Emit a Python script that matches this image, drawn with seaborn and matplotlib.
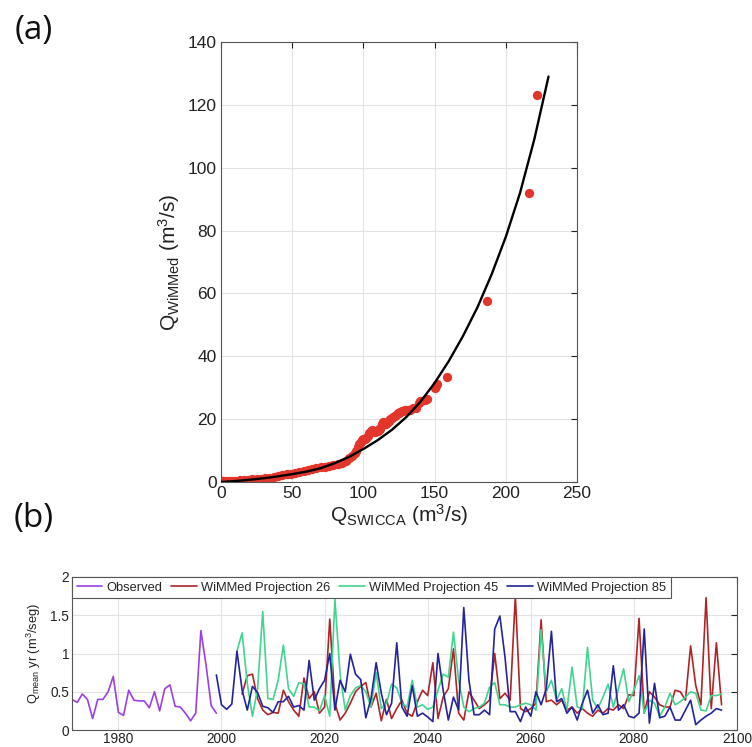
import numpy as np
import pandas as pd
import matplotlib
matplotlib.use("Agg")
import matplotlib.pyplot as plt
import seaborn as sns

sns.set_theme(style="whitegrid")
plt.rcParams['font.family'] = ['Liberation Sans', 'DejaVu Sans']
plt.rcParams['mathtext.fontset'] = 'custom'
plt.rcParams['mathtext.rm'] = 'Liberation Sans'
plt.rcParams['mathtext.it'] = 'Liberation Sans:italic'

# ---------------- (a) scatter data ----------------
q_swicca = [0, 1, 2, 4, 6, 8, 10, 13, 16, 19, 22, 25, 28, 31, 34, 37, 40, 43, 46, 49,
            52, 55, 58, 61, 64, 67, 70, 73, 76, 79, 82, 85, 88, 90, 92, 94, 95, 96, 97, 98,
            99, 100, 101, 102, 103, 104, 105, 106, 107, 108, 110, 111, 112, 113, 114, 115,
            116, 117, 118, 119, 120, 121, 122, 123, 124, 125, 126, 127, 128, 129, 130, 131,
            132, 133, 135, 137, 139, 140, 143, 145, 150, 151, 152, 159, 187, 216, 222]
q_wimmed = [0.3, 0.2, 0.3, 0.3, 0.3, 0.4, 0.4, 0.5, 0.6, 0.7, 0.8, 0.9, 1.0, 1.2, 1.4, 1.6,
            1.9, 2.1, 2.4, 2.7, 3.0, 3.2, 3.5, 3.8, 4.1, 4.4, 4.7, 4.9, 5.1, 5.3, 5.6, 6.0,
            6.8, 7.5, 8.3, 9.3, 10.0, 11.0, 12.0, 12.8, 13.3, 13.6, 13.8, 14.0, 14.5, 15.5,
            16.2, 16.5, 16.3, 16.0, 16.2, 16.8, 17.0, 18.5, 19.2, 18.8, 18.6, 19.0, 19.5,
            20.0, 20.3, 20.7, 21.0, 21.4, 21.8, 22.0, 22.3, 22.5, 22.7, 22.8, 23.0, 23.0,
            23.0, 23.0, 23.5, 23.5, 25.0, 25.7, 26.0, 26.5, 29.8, 30.5, 31.2, 33.5, 57.5,
            92.0, 123.0]

# fitted curve
fit_x = [0, 10, 20, 30, 40, 50, 60, 70, 80, 90, 100, 110, 120, 130, 140, 150, 160, 170,
         180, 190, 200, 210, 220, 230]
fit_y = [0, 0.3, 0.7, 1.2, 1.8, 2.5, 3.3, 4.4, 6.0, 8.0, 10.5, 13.3, 16.6, 20.6, 25.5,
         31.5, 38.5, 46.5, 55.5, 66, 78, 92, 109, 129]

# ---------------- (b) time series data ----------------
obs_start, obs_end = 1971, 1999
observed = [0.40, 0.36, 0.47, 0.40, 0.15, 0.40, 0.40, 0.50, 0.70, 0.23, 0.19, 0.52, 0.39,
            0.38, 0.38, 0.29, 0.50, 0.25, 0.54, 0.59, 0.31, 0.30, 0.22, 0.12, 0.22, 1.30,
            0.85, 0.32, 0.22]

p26_start, p26_end = 2004, 2097
proj26 = [0.47, 0.71, 0.73, 0.41, 0.26, 0.20, 0.23, 0.22, 0.52, 0.37, 0.26, 0.18, 0.68,
          0.41, 0.50, 0.22, 0.30, 1.45, 0.35, 0.13, 0.22, 0.35, 0.50, 0.57, 0.62, 0.30,
          0.48, 0.12, 0.40, 0.15, 0.28, 0.39, 0.22, 0.18, 0.37, 0.52, 0.45, 0.88, 0.15,
          0.43, 0.54, 1.06, 0.22, 0.13, 0.50, 0.39, 0.28, 0.33, 0.39, 1.00, 0.41, 0.48,
          0.39, 1.75, 0.28, 0.24, 0.28, 0.35, 1.44, 0.37, 0.39, 0.33, 0.39, 0.26, 0.30,
          0.22, 0.28, 0.22, 0.18, 0.26, 0.22, 0.28, 0.26, 0.33, 0.28, 0.46, 0.45, 1.46,
          0.22, 0.50, 0.43, 0.33, 0.30, 0.30, 0.52, 0.50, 0.39, 1.10, 0.58, 0.33, 1.73,
          0.28, 1.14, 0.33]

p45_start, p45_end = 2003, 2097
proj45 = [1.03, 1.27, 0.61, 0.18, 0.54, 1.55, 0.41, 0.40, 0.65, 1.11, 0.54, 0.44, 0.62,
          0.60, 0.30, 0.30, 0.25, 0.45, 0.18, 1.71, 0.73, 0.26, 0.45, 0.55, 0.58, 0.50,
          0.30, 0.75, 0.28, 0.35, 0.60, 0.55, 0.35, 0.30, 0.65, 0.30, 0.33, 0.27, 0.30,
          0.52, 0.73, 0.69, 1.28, 0.65, 0.30, 0.24, 0.28, 0.30, 0.35, 0.56, 0.62, 0.33,
          0.33, 0.30, 0.30, 0.33, 0.35, 0.33, 0.26, 1.31, 0.50, 0.65, 0.39, 0.54, 0.26,
          0.82, 0.30, 0.28, 1.08, 0.39, 0.28, 0.43, 0.60, 0.30, 0.54, 0.80, 0.37, 0.52,
          0.71, 0.22, 0.39, 0.35, 0.18, 0.30, 0.48, 0.33, 0.37, 0.43, 0.50, 0.48, 0.26,
          0.25, 0.45, 0.45, 0.47]

p85_start, p85_end = 1999, 2097
proj85 = [0.72, 0.33, 0.27, 0.34, 1.03, 0.52, 0.26, 0.57, 0.49, 0.31, 0.29, 0.23, 0.37,
          0.37, 0.44, 0.30, 0.32, 0.26, 0.91, 0.39, 0.54, 0.65, 1.00, 0.26, 0.65, 0.50,
          0.99, 0.73, 0.66, 0.16, 0.41, 0.88, 0.48, 0.20, 0.35, 1.14, 0.30, 0.18, 0.58,
          0.18, 0.22, 0.17, 0.11, 1.00, 0.52, 0.13, 0.43, 0.26, 1.60, 0.65, 0.20, 0.20,
          0.26, 0.20, 1.32, 1.49, 0.95, 0.24, 0.24, 0.11, 0.30, 0.18, 0.50, 0.33, 0.54,
          1.29, 0.37, 0.41, 0.22, 0.30, 0.13, 0.35, 0.52, 0.22, 0.33, 0.20, 0.22, 0.84,
          0.26, 0.33, 0.18, 0.16, 0.22, 1.32, 0.09, 0.61, 0.16, 0.18, 0.30, 0.13, 0.13,
          0.26, 0.39, 0.07, 0.13, 0.18, 0.22, 0.28, 0.26]

series_names = ["Observed", "WiMMed Projection 26", "WiMMed Projection 45",
                "WiMMed Projection 85"]
series_colors = ["#9b3fe6", "#b02428", "#41d48e", "#23249a"]

frames = []
for name, start, end, vals in [
        (series_names[0], obs_start, obs_end, observed),
        (series_names[1], p26_start, p26_end, proj26),
        (series_names[2], p45_start, p45_end, proj45),
        (series_names[3], p85_start, p85_end, proj85)]:
    frames.append(pd.DataFrame({"year": np.arange(start, end + 1), "q": vals,
                                "series": name}))
ts = pd.concat(frames, ignore_index=True)

# ---------------- figure ----------------
fig = plt.figure(figsize=(7.52, 7.47), dpi=100)
W, H = 752, 747

def box(l, r, t, b):
    return [l / W, 1 - b / H, (r - l) / W, (b - t) / H]

grid_kw = dict(color="#e3e3e3", linewidth=0.8)

# (a)
ax1 = fig.add_axes(box(221, 577, 42, 482))
ax1.set_facecolor("white")
sns.lineplot(x=fit_x, y=fit_y, ax=ax1, color="black", linewidth=1.7, zorder=3,
             sort=False)
sns.scatterplot(x=q_swicca, y=q_wimmed, ax=ax1, color="#e2362b", s=45,
                edgecolor="#e2362b", linewidth=0, zorder=2)
ax1.set_xlim(0, 250)
ax1.set_ylim(0, 140)
ax1.set_xticks(range(0, 251, 50))
ax1.set_yticks(range(0, 141, 20))
ax1.grid(True, **grid_kw)
for sp in ax1.spines.values():
    sp.set_color("#555555")
    sp.set_linewidth(0.8)
ax1.tick_params(axis="both", labelsize=12.5, colors="#222222", direction="in",
                length=4, width=0.8, top=True, right=True, pad=3)
ax1.set_xlabel(r"Q$_{\mathrm{SWICCA}}$ (m$^3$/s)", fontsize=15, color="#222222",
               labelpad=0.5)
ax1.set_ylabel(r"Q$_{\mathrm{WiMMed}}$ (m$^3$/s)", fontsize=15, color="#222222",
               labelpad=4)

# (b)
ax2 = fig.add_axes(box(72, 737, 577, 730))
ax2.set_facecolor("white")
sns.lineplot(data=ts, x="year", y="q", hue="series", hue_order=series_names,
             palette=series_colors, ax=ax2, linewidth=1.2)
ax2.set_xlim(1971, 2100)
ax2.set_ylim(0, 2)
ax2.set_xticks(range(1980, 2101, 20))
ax2.set_yticks([0, 0.5, 1, 1.5, 2])
ax2.set_yticklabels(["0", "0.5", "1", "1.5", "2"])
ax2.grid(True, **grid_kw)
for sp in ax2.spines.values():
    sp.set_color("#555555")
    sp.set_linewidth(0.8)
ax2.tick_params(axis="both", labelsize=9.8, colors="#222222", direction="in",
                length=4, width=0.8, top=True, right=True, pad=2)
ax2.tick_params(axis="x", pad=1.5)
ax2.set_xlabel("")
ax2.set_ylabel(r"Q$_{\mathrm{mean}}$ yr (m$^3$/seg)", fontsize=9.3, color="#222222",
               labelpad=5)
leg = ax2.legend(loc="upper left", ncol=4, fontsize=9.3, frameon=True,
                 borderaxespad=0.0, handlelength=2.0, handletextpad=0.3,
                 columnspacing=0.7, borderpad=0.35, fancybox=False)
leg.get_frame().set_edgecolor("#555555")
leg.get_frame().set_linewidth(0.8)
leg.get_frame().set_alpha(1.0)

fig.text(34 / W, 1 - 31 / H, "(a)", fontsize=24, family=["Open Sans", "DejaVu Sans"],
         ha="center", va="center", color="#111111")
fig.text(34 / W, 1 - 519 / H, "(b)", fontsize=24, family=["Open Sans", "DejaVu Sans"],
         ha="center", va="center", color="#111111")

fig.savefig("out.png", dpi=100, facecolor="white")
